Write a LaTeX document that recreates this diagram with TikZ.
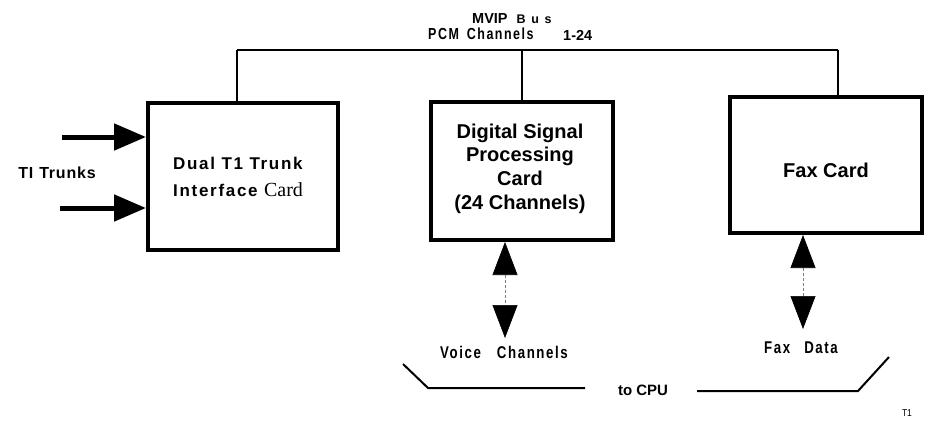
\documentclass[tikz,border=0pt]{standalone}
\usepackage{fontspec}
\setmainfont{Liberation Sans}
\newfontfamily\cardserif{Liberation Serif}
\newfontfamily\trackedsans[LetterSpace=12]{Liberation Sans}
\newfontfamily\bussans[LetterSpace=45]{Liberation Sans}
\newfontfamily\dualsans[LetterSpace=10]{Liberation Sans}
\newfontfamily\trunksans[LetterSpace=5]{Liberation Sans}
\newcommand\tracked[1]{\scalebox{0.78}[1]{\trackedsans\bfseries\fontsize{17}{18}\selectfont #1}}
\newcommand\pcmtracked[1]{\scalebox{0.78}[1]{\trackedsans\bfseries\fontsize{16}{17}\selectfont #1}}
\usetikzlibrary{arrows.meta}
\begin{document}
\begin{tikzpicture}[x=1pt,y=-1pt,
  card/.style={draw,line width=4pt,rectangle,inner sep=0pt},
  cardtext/.style={inner sep=0pt,align=center,font=\bfseries\fontsize{20}{23.7}\selectfont},
  busline/.style={line width=1.8pt},
  trunkarrow/.style={line width=5pt,-{Triangle[length=32pt,width=26pt]}},
  dataarrow/.style={densely dashed,line width=0.6pt,draw=gray,
     {Triangle[length=33pt,width=25pt,color=black,fill=black]}-{Triangle[length=33pt,width=25pt,color=black,fill=black]}},
  cpuline/.style={line width=2pt},
  lbl/.style={inner sep=0pt}]
\useasboundingbox (0,0) rectangle (932,426);

% cards
\node[card,minimum width=190pt,minimum height=147pt] (trunk) at (243,176.5) {};
\node[inner sep=0pt,align=left,anchor=west,font=\dualsans\bfseries\fontsize{17}{27}\selectfont] (trunktxt) at (173,177)
  {Dual T1 Trunk\\Interface {\mdseries\cardserif\fontsize{20}{27}\selectfont Card}};
\node[card,minimum width=182pt,minimum height=138pt] (dsp) at (522,171) {};
\node[cardtext] (dsptxt) at (520,168.5)
  {Digital Signal\\Processing\\Card\\(24 Channels)};
\node[card,minimum width=192pt,minimum height=136pt] (fax) at (826,165) {};
\node[cardtext] (faxtxt) at (826,170) {Fax Card};

% bus
\coordinate (busL) at (237,50);
\coordinate (busR) at (838,50);
\node[lbl,anchor=base west] (mvip) at (472,23)
  {\bfseries\fontsize{14.5}{16}\selectfont MVIP\hspace{9pt}{\bussans\fontsize{12.5}{13}\selectfont Bus}};
\node[lbl,anchor=base west] (pcm) at (428,39)
  {\pcmtracked{PCM}\hspace{8pt}\pcmtracked{Channels}};
\node[lbl,anchor=base west] (chn) at (563,40) {\bfseries\fontsize{14.5}{16}\selectfont 1-24};
\draw[busline] (busL) -- (busR);
\draw[busline] (busL) -- (busL |- trunk.north);
\draw[busline] (dsp.north) -- (dsp.north |- busL);
\draw[busline] (busR) -- (busR |- fax.north);

% trunks
\coordinate (ta) at (62,137);
\coordinate (tb) at (60,208);
\draw[trunkarrow] (ta) -- (trunk.west |- ta);
\draw[trunkarrow] (tb) -- (trunk.west |- tb);
\node[lbl,font=\trunksans\bfseries\fontsize{16}{18}\selectfont] (tlbl) at (57,173) {TI\hspace{6pt}Trunks};

% data arrows
\coordinate (vc) at (505,338);
\coordinate (fd) at (803,329);
\draw[dataarrow] (vc |- dsp.south) -- (vc);
\draw[dataarrow] (fd |- fax.south) -- (fd);
\node[lbl] (vlbl) at (504,352) {\tracked{Voice}\hspace{16pt}\tracked{Channels}};
\node[lbl] (flbl) at (801,348) {\tracked{Fax}\hspace{14pt}\tracked{Data}};

% to CPU
\node[lbl,font=\bfseries\fontsize{15}{17}\selectfont] (cpu) at (643,390) {to CPU};
\coordinate (c1) at (403,364);
\coordinate (c2) at (428,388);
\coordinate (c3) at (585,388);
\coordinate (c4) at (697,391);
\coordinate (c5) at (858,391);
\coordinate (c6) at (889,357);
\draw[cpuline] (c1) -- (c2) -- (c3);
\draw[cpuline] (c4) -- (c5) -- (c6);

\node[lbl,font=\fontsize{10}{12}\selectfont] (tag) at (907,413) {\scalebox{0.85}[1]{T1}};
\end{tikzpicture}
\end{document}
